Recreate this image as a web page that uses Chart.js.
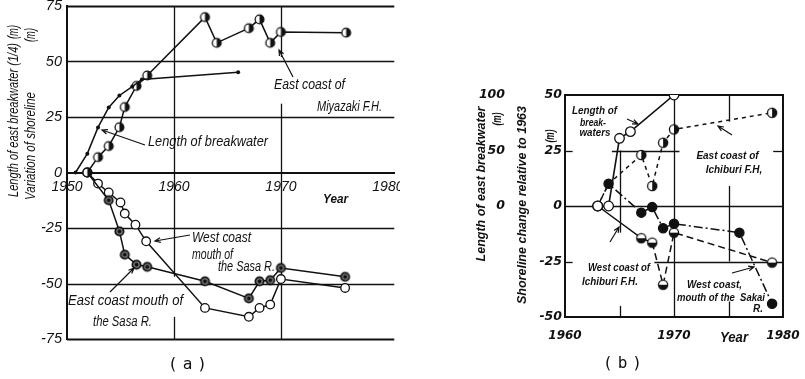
<!DOCTYPE html>
<html>
<head>
<meta charset="utf-8">
<script src="https://cdn.jsdelivr.net/npm/chart.js"></script>
<style>
  html, body { margin: 0; padding: 0; background: #fff; }
  #wrap { position: relative; width: 805px; height: 379px; overflow: hidden; background: #fff; }
  #chartA { position: absolute; left: 0; top: 0; }
  #chartB { position: absolute; left: 400px; top: 0; }
</style>
</head>
<body>
<div id="wrap">
  <canvas id="chartA" width="400" height="379"></canvas>
  <canvas id="chartB" width="405" height="379"></canvas>
</div>
<script>
// (a) Miyazaki F.H. and the Sasa R. mouth
const yearsBreakwaterA = [1950.8, 1951.9, 1952.9, 1953.9, 1954.9, 1956.1, 1957.0, 1966.0];
const breakwaterA      = [0, 8.5, 20.3, 29.3, 34.7, 38.7, 41.9, 45.2];   // 1/4 of length
const yearsMiyazaki    = [1951.9, 1952.9, 1953.9, 1954.9, 1955.4, 1956.5, 1957.5, 1962.9, 1964.0, 1967.0, 1968.0, 1969.0, 1970.0, 1976.1];
const miyazakiEast     = [0, 6.9, 11.9, 20.4, 29.5, 39.0, 43.7, 70.0, 58.4, 65.0, 69.0, 58.4, 63.3, 63.0];
const yearsSasaWest    = [1951.9, 1952.9, 1953.9, 1955.0, 1955.4, 1956.4, 1957.4, 1962.9, 1967.0, 1968.0, 1969.0, 1970.0, 1976.0];
const sasaWest         = [0, -5, -9, -13.5, -18.5, -23.5, -31, -61, -65, -61, -59.5, -48, -52];
const yearsSasaEast    = [1951.9, 1953.9, 1954.9, 1955.4, 1956.5, 1957.5, 1962.9, 1967.0, 1968.0, 1969.0, 1970.0, 1976.0];
const sasaEast         = [0, -12.5, -26.5, -37, -41.5, -42.5, -49, -56.7, -49, -48.5, -43, -47];
const ticksYearA  = [1950, 1960, 1970, 1980];
const ticksValueA = [-75, -50, -25, 0, 25, 50, 75];

// (b) Ichiburi F.H. and the Sakai R. mouth
const yearsBreakwaterB  = [1963, 1964, 1965, 1966, 1970];
const breakwaterB       = [0, 0, 61, 67, 100];   // metres, length scale
const yearsIchiburiEast = [1963, 1964, 1967, 1968, 1969, 1970, 1979];
const ichiburiEast      = [0, 10, 23, 9, 28.5, 34.5, 42];
const yearsIchiburiWest = [1963, 1967, 1968, 1969, 1970, 1979];
const ichiburiWest      = [0, -14.5, -16.5, -35.5, -12, -25.5];
const yearsSakai        = [1963, 1964, 1967, 1968, 1969, 1970, 1976, 1979];
const sakaiWest         = [0, 10, -3, -0.5, -10, -8, -12, -44];
const ticksYearB   = [1960, 1970, 1980];
const ticksShoreB  = [-50, -25, 0, 25, 50];
const ticksLengthB = [0, 50, 100];

const INK = '#111';
const pts = (xs, ys) => xs.map((x, i) => ({ x: x, y: ys[i] }));

// small canvases used as point styles
function marker(kind, r) {
  const s = Math.ceil(r * 2 + 4);
  const c = document.createElement('canvas');
  c.width = s; c.height = s;
  const g = c.getContext('2d');
  const m = s / 2;
  g.fillStyle = kind === 'ring' ? '#7a7a7a' : '#fff';
  g.beginPath(); g.arc(m, m, r, 0, Math.PI * 2); g.fill();
  g.fillStyle = INK;
  if (kind === 'right') {
    g.beginPath(); g.arc(m, m, r, -Math.PI / 2, Math.PI / 2); g.closePath(); g.fill();
  } else if (kind === 'bottom') {
    g.beginPath(); g.arc(m, m, r, 0, Math.PI); g.closePath(); g.fill();
  } else if (kind === 'ring') {
    g.beginPath(); g.arc(m, m, 1.9, 0, Math.PI * 2); g.fill();
  }
  g.strokeStyle = INK;
  g.lineWidth = kind === 'ring' ? 1.7 : 1.3;
  g.beginPath(); g.arc(m, m, r, 0, Math.PI * 2); g.stroke();
  return c;
}

function setTicks(list) {
  return s => { s.ticks = list.map(v => ({ value: v })); };
}
function noPad(s) {
  s.paddingLeft = 0; s.paddingRight = 0; s.paddingTop = 0; s.paddingBottom = 0;
}

function drawArrow(ctx, x1, y1, x2, y2) {
  const a = Math.atan2(y2 - y1, x2 - x1), h = 6;
  ctx.beginPath();
  ctx.moveTo(x1, y1); ctx.lineTo(x2, y2);
  ctx.moveTo(x2 - h * Math.cos(a - 0.4), y2 - h * Math.sin(a - 0.4));
  ctx.lineTo(x2, y2);
  ctx.lineTo(x2 - h * Math.cos(a + 0.4), y2 - h * Math.sin(a + 0.4));
  ctx.stroke();
}

// grid pieces and frame, in data units
const gridSegments = {
  id: 'segs',
  beforeDatasetsDraw(chart, args, o) {
    const { ctx, chartArea: ca } = chart;
    const x = chart.scales.x, y = chart.scales.y;
    ctx.save();
    ctx.strokeStyle = INK;
    (o.h || []).forEach(([v, a, b, w]) => {
      const py = Math.round(y.getPixelForValue(v)) + 0.5;
      ctx.lineWidth = w || 1.3;
      ctx.beginPath(); ctx.moveTo(x.getPixelForValue(a), py); ctx.lineTo(x.getPixelForValue(b), py); ctx.stroke();
    });
    (o.v || []).forEach(([v, a, b, w]) => {
      const px = Math.round(x.getPixelForValue(v)) + 0.5;
      ctx.lineWidth = w || 1.3;
      ctx.beginPath(); ctx.moveTo(px, y.getPixelForValue(a)); ctx.lineTo(px, y.getPixelForValue(b)); ctx.stroke();
    });
    if (o.frame) {
      ctx.lineWidth = 2;
      ctx.strokeRect(ca.left, ca.top, ca.right - ca.left, ca.bottom - ca.top);
    }
    ctx.restore();
  }
};

// labels, axis titles and leader arrows
const notes = {
  id: 'notes',
  afterDraw(chart, args, o) {
    const ctx = chart.ctx;
    ctx.save();
    ctx.fillStyle = INK;
    ctx.textAlign = 'center';
    ctx.textBaseline = 'middle';
    (o.texts || []).forEach(n => {
      ctx.save();
      ctx.font = n.font;
      if (n.ls) ctx.letterSpacing = n.ls;
      ctx.translate(n.x, n.y);
      if (n.rot) ctx.rotate(-Math.PI / 2);
      if (n.w) ctx.fillText(n.t, 0, 0, n.w); else ctx.fillText(n.t, 0, 0);
      ctx.restore();
    });
    ctx.strokeStyle = INK;
    ctx.lineWidth = 1.2;
    (o.arrows || []).forEach(a => drawArrow(ctx, a[0], a[1], a[2], a[3]));
    ctx.restore();
  }
};

const fA  = 'italic 14px "Liberation Sans", Arial, sans-serif';
const fAb = 'italic bold 13px "Liberation Sans", Arial, sans-serif';
const fB  = 'italic bold 10px "Liberation Sans", Arial, sans-serif';
const fBt = 'italic bold 12.5px "Liberation Sans", Arial, sans-serif';
const fCap = '16px "DejaVu Sans Mono", monospace';

const line = (data, extra) => Object.assign({
  data: data, borderColor: INK, borderWidth: 1.5, tension: 0,
  pointBorderColor: INK, pointBackgroundColor: '#fff', pointBorderWidth: 1.3
}, extra);

// ---------- (a) ----------
new Chart(document.getElementById('chartA'), {
  type: 'line',
  data: {
    datasets: [
      line(pts(yearsBreakwaterA, breakwaterA), { label: 'Length of breakwater', pointRadius: 2, pointBackgroundColor: INK, pointBorderWidth: 0 }),
      line(pts(yearsMiyazaki, miyazakiEast), { label: 'East coast of Miyazaki F.H.', pointStyle: marker('right', 4.4), pointRadius: 4.4 }),
      line(pts(yearsSasaEast, sasaEast), { label: 'East coast mouth of the Sasa R.', pointStyle: marker('ring', 4.2), pointRadius: 4.2 }),
      line(pts(yearsSasaWest, sasaWest), { label: 'West coast mouth of the Sasa R.', pointRadius: 4.3 })
    ]
  },
  options: {
    responsive: false, animation: false, events: [],
    layout: { padding: { top: 6, bottom: 40, left: 0, right: 0 } },
    plugins: {
      legend: { display: false }, tooltip: { enabled: false },
      segs: {
        h: [[75, 1950, 1980.6, 2], [50, 1950, 1980.6], [25, 1950, 1980.6],
            [-25, 1950, 1980.6], [-50, 1950, 1980.6], [-75, 1950, 1980.6, 2]],
        v: [[1960, 75, -47], [1960, -65, -75], [1970, 75, 52], [1970, 31, -75]]
      },
      notes: {
        texts: [
          { t: 'Length of east breakwater (1/4)', x: 14, y: 120, w: 154, rot: true, font: fA },
          { t: '(m)', x: 14, y: 32, w: 14, rot: true, font: fA },
          { t: 'Variation of shoreline', x: 31, y: 146, w: 108, rot: true, font: fA },
          { t: '(m)', x: 31, y: 35, w: 14, rot: true, font: fA },
          { t: 'East coast of', x: 309.5, y: 85, w: 71, font: fA },
          { t: 'Miyazaki F.H.', x: 349.5, y: 107, w: 65, font: fA },
          { t: 'Length of breakwater', x: 208, y: 142, w: 120, font: fA },
          { t: 'West coast', x: 221.5, y: 238, w: 59, font: fA },
          { t: 'mouth of', x: 212.5, y: 255, w: 41, font: fA },
          { t: 'the Sasa R.', x: 246.5, y: 267, w: 57, font: fA },
          { t: 'East coast mouth of', x: 125.5, y: 301, w: 115, font: fA },
          { t: 'the Sasa R.', x: 122.5, y: 322, w: 59, font: fA },
          { t: 'Year', x: 335.5, y: 199, w: 25, font: fAb },
          { t: '(a)', x: 190, y: 365, font: fCap, ls: '5px' }
        ],
        arrows: [[293, 77, 279, 50], [145, 145, 102, 130], [190, 235, 155, 241], [110, 292, 134, 268]]
      }
    },
    scales: {
      x: {
        type: 'linear', min: 1950, max: 1980.6, position: { y: 0 },
        afterBuildTicks: setTicks(ticksYearA), afterFit: noPad,
        grid: { display: false, drawTicks: false },
        border: { display: true, width: 2, color: INK },
        ticks: { padding: 6, color: INK, autoSkip: false, maxRotation: 0, callback: v => String(v),
                 font: { family: '"Liberation Sans", Arial, sans-serif', size: 14, style: 'italic' } }
      },
      y: {
        type: 'linear', min: -75, max: 75,
        afterBuildTicks: setTicks(ticksValueA),
        afterFit: s => { noPad(s); s.width = 67; },
        grid: { display: false, drawTicks: false },
        border: { display: true, width: 2, color: INK },
        ticks: { padding: 5, color: INK, callback: v => String(v),
                 font: { family: '"Liberation Sans", Arial, sans-serif', size: 14.5, style: 'italic' } }
      }
    }
  },
  plugins: [gridSegments, notes]
});

// ---------- (b) ----------
const eastRadius = yearsIchiburiEast.map(yr => yr === 1964 ? 0 : 4.6);
new Chart(document.getElementById('chartB'), {
  type: 'line',
  data: {
    datasets: [
      line(pts(yearsBreakwaterB, breakwaterB), { label: 'Length of breakwaters', yAxisID: 'y2', borderWidth: 1.6, pointRadius: 4.8 }),
      line(pts(yearsSakai, sakaiWest), { label: 'West coast, mouth of the Sakai R.', borderDash: [9, 3, 2, 3], pointRadius: 4.6, pointBackgroundColor: INK }),
      line(pts(yearsIchiburiWest, ichiburiWest), { label: 'West coast of Ichiburi F.H.', pointStyle: marker('bottom', 4.6), pointRadius: 4.6,
        segment: { borderDash: c => c.p0DataIndex < 2 ? [] : [7, 4] } }),
      line(pts(yearsIchiburiEast, ichiburiEast), { label: 'East coast of Ichiburi F.H.', borderDash: [4, 4], pointStyle: marker('right', 4.6), pointRadius: eastRadius })
    ]
  },
  options: {
    responsive: false, animation: false, events: [],
    layout: { padding: { top: 95, bottom: 0, left: 0, right: 22 } },
    plugins: {
      legend: { display: false }, tooltip: { enabled: false },
      segs: {
        frame: true,
        h: [[25, 1960, 1960.7], [25, 1964.3, 1970.5], [25, 1979.1, 1980], [0, 1960, 1980, 1.7],
            [-25, 1960, 1960.7], [-25, 1968.2, 1980]],
        v: [[1965, 25, -12], [1965, -45, -50], [1970, 50, -50], [1975, 50, 38], [1975, 9, -25], [1975, -43, -50]]
      },
      notes: {
        texts: [
          { t: 'Length of east breakwater', x: 82, y: 184, w: 162, rot: true, font: fBt },
          { t: '(m)', x: 98, y: 119, w: 13, rot: true, font: fBt },
          { t: 'Shoreline change relative to 1963', x: 123, y: 205, w: 214, rot: true, font: fBt },
          { t: '(m)', x: 151, y: 136, w: 13, rot: true, font: fBt },
          { t: 'Length of', x: 194.5, y: 111, w: 45, font: fB },
          { t: 'break-', x: 193, y: 123, w: 26, font: fB },
          { t: 'waters', x: 195, y: 133, w: 31, font: fB },
          { t: 'East coast of', x: 327.5, y: 156, w: 71, font: fB },
          { t: 'Ichiburi F.H,', x: 334, y: 170, w: 58, font: fB },
          { t: 'West coast of', x: 219, y: 268, w: 62, font: fB },
          { t: 'Ichiburi F.H.', x: 210, y: 282, w: 56, font: fB },
          { t: 'West coast,', x: 314.5, y: 285, w: 55, font: fB },
          { t: 'mouth of the  Sakai', x: 321, y: 298, w: 88, font: fB },
          { t: 'R.', x: 358, y: 309, w: 10, font: fB },
          { t: 'Year', x: 334, y: 338, w: 28, font: 'italic bold 14px "Liberation Sans", Arial, sans-serif' },
          { t: '(b)', x: 225, y: 364, font: fCap, ls: '5px' }
        ],
        arrows: [[227, 119, 238, 124], [332, 135, 318, 126], [210, 242, 219, 227], [332, 273, 354, 267]]
      }
    },
    scales: {
      x: {
        type: 'linear', min: 1960, max: 1980, position: 'bottom',
        afterBuildTicks: setTicks(ticksYearB),
        afterFit: s => { noPad(s); s.height = 62; },
        grid: { display: false, drawTicks: false },
        border: { display: false },
        ticks: { padding: 12, color: INK, autoSkip: false, maxRotation: 0, callback: v => String(v),
                 font: { family: '"DejaVu Sans", sans-serif', size: 12, style: 'italic', weight: 'bold' } }
      },
      y: {
        type: 'linear', min: -50, max: 50, position: 'left', weight: 0,
        afterBuildTicks: setTicks(ticksShoreB),
        afterFit: s => { noPad(s); s.width = 60; },
        grid: { display: false, drawTicks: false },
        border: { display: false },
        ticks: { padding: 3, color: INK, callback: v => String(v),
                 font: { family: '"DejaVu Sans", sans-serif', size: 12.5, style: 'italic', weight: 'bold' } }
      },
      y2: {
        type: 'linear', min: -100, max: 100, position: 'left', weight: 1,
        afterBuildTicks: setTicks(ticksLengthB),
        afterFit: s => { noPad(s); s.width = 105; },
        grid: { display: false, drawTicks: false },
        border: { display: false },
        ticks: { padding: 0, color: INK, callback: v => String(v),
                 font: { family: '"DejaVu Sans", sans-serif', size: 12.5, style: 'italic', weight: 'bold' } }
      }
    }
  },
  plugins: [gridSegments, notes]
});
</script>
</body>
</html>
